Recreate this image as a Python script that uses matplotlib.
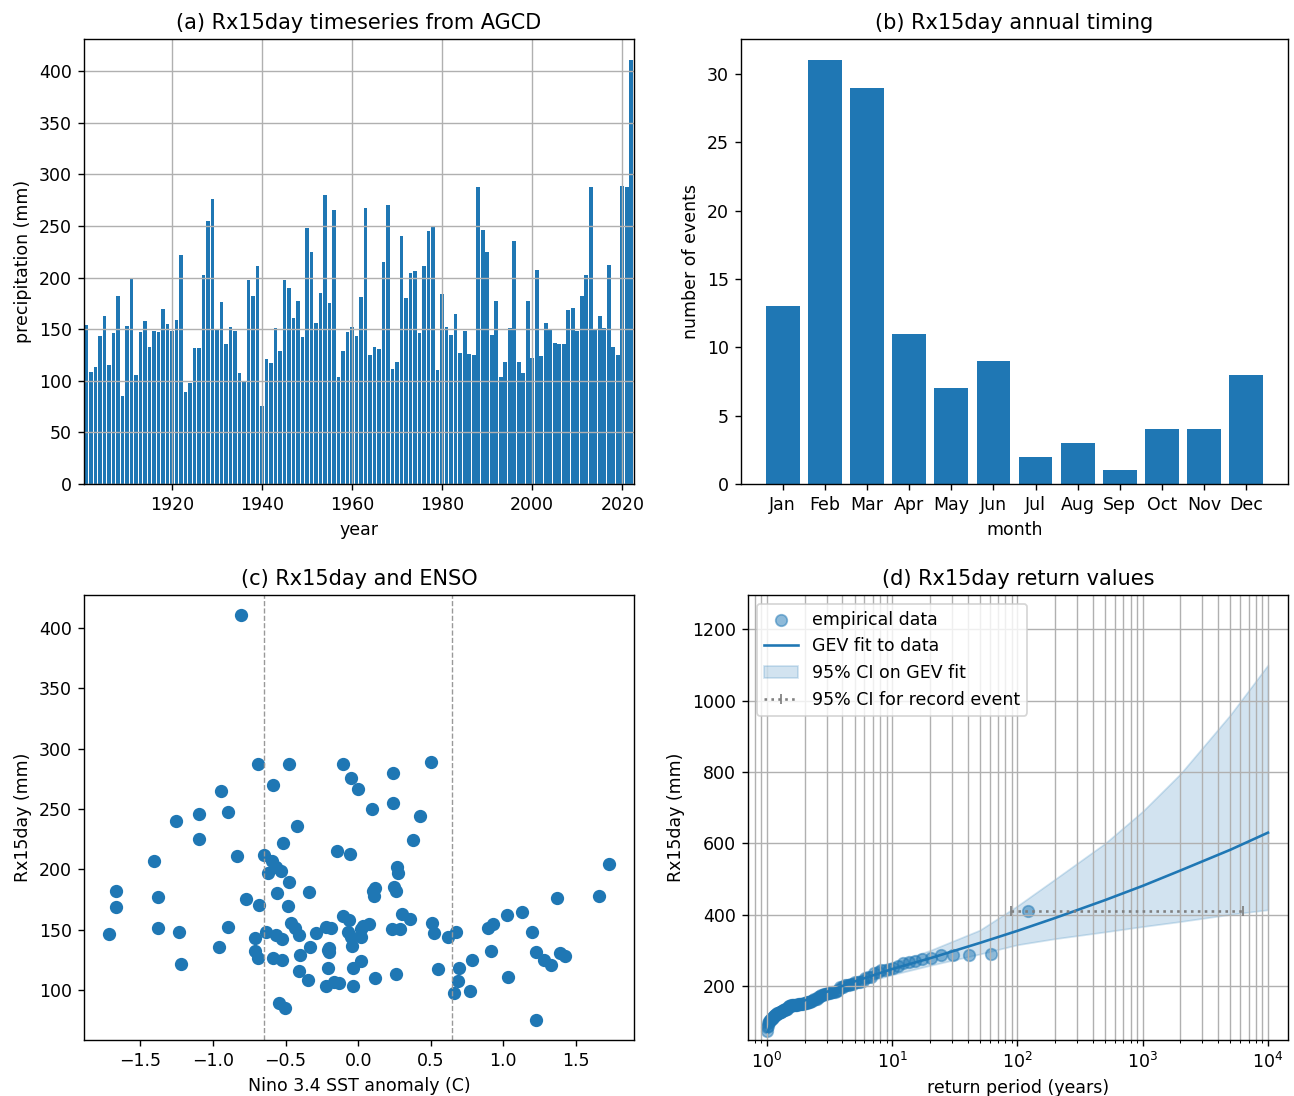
import numpy as np
import matplotlib
matplotlib.use('Agg')
import matplotlib.pyplot as plt

# Rx15day annual maxima (mm), 1901-2022
years = np.arange(1901, 2023)
rx15day = [154.4, 108.4, 113.6, 143.7, 163.1, 115.5, 146.0, 181.9, 85.1, 152.8,
           198.4, 105.8, 147.2, 158.3, 132.4, 147.9, 146.9, 169.3, 154.7, 148.5,
           158.6, 222.0, 89.0, 97.4, 131.7, 131.4, 202.3, 255.3, 275.7, 150.5,
           176.0, 135.9, 151.8, 147.9, 107.1, 99.4, 197.4, 182.2, 211.0, 75.4,
           120.7, 117.5, 151.1, 128.8, 197.4, 189.6, 161.2, 177.7, 142.4, 247.6,
           225.2, 156.0, 185.1, 280.0, 175.4, 265.4, 103.6, 128.5, 147.2, 152.1,
           143.0, 180.9, 267.0, 124.9, 132.4, 130.7, 215.5, 269.9, 111.0, 118.1,
           240.5, 180.6, 204.5, 206.8, 146.0, 211.7, 244.7, 249.8, 110.0, 184.5,
           152.4, 144.0, 164.4, 126.5, 147.9, 126.2, 124.6, 287.4, 246.0, 224.6,
           144.3, 177.7, 103.6, 118.4, 151.1, 235.6, 118.1, 107.4, 177.0, 122.0,
           207.1, 124.3, 155.7, 150.5, 136.2, 135.6, 135.3, 168.6, 170.9, 147.9,
           182.5, 202.3, 287.4, 150.5, 162.5, 151.1, 212.6, 133.0, 124.6, 288.7,
           287.7, 410.7]

# Nino 3.4 SST anomaly (C) for each year
nino34 = [0.075, -0.347, 0.258, -0.05, 0.305, -0.405, -0.407, 0.261, -0.506, 0.037,
          -0.533, -0.135, 0.526, -0.061, 0.917, 1.2, -1.717, -0.48, 0.931, -0.073,
          0.358, -0.517, -0.545, 0.659, 1.223, -0.2, 0.268, 0.242, -0.046, 0.019,
          1.368, -0.333, -0.437, -1.233, -0.165, 0.772, -0.623, 0.104, -0.833, 1.228,
          1.331, 0.548, -1.38, -0.4, 0.277, -0.476, -0.105, 0.111, -0.526, -0.899,
          -1.095, -0.464, 0.245, 0.242, -0.773, -0.948, -0.218, 1.423, -0.291, -0.218,
          -0.713, -0.342, -0.004, -0.526, -0.709, 1.391, -0.149, -0.586, 1.034, -0.209,
          -1.256, -0.557, 1.729, -1.408, -0.563, -0.648, 0.427, 0.093, 0.116, 0.116,
          -0.897, 0.019, 1.126, -0.584, -0.632, -0.692, 0.788, -0.688, -1.095, 0.381,
          0.617, 1.66, -0.032, -0.032, -0.188, -0.419, 0.698, 0.691, -1.376, -1.222,
          -0.591, 0.019, 0.51, 0.233, -0.039, -0.957, -0.2, -1.671, -0.683, 0.675,
          -1.671, -0.568, -0.478, 0.291, 1.025, 0.894, -0.057, -0.205, 1.278, 0.503,
          -0.101, -0.805]

# month of each annual maximum
months = ['Jan', 'Feb', 'Mar', 'Apr', 'May', 'Jun', 'Jul', 'Aug', 'Sep', 'Oct', 'Nov', 'Dec']
month_counts = [13, 31, 29, 11, 7, 9, 2, 3, 1, 4, 4, 8]

# GEV return curve and 95% CI
return_periods = [1.01, 1.1, 1.3, 1.6, 2, 3, 5, 10, 20, 50, 100, 200, 500, 1000, 2000, 5000, 10000]
gev_fit = [72, 106, 125, 142, 160, 184, 213, 248, 278, 321, 355, 391, 441, 481, 524, 582, 630]
gev_lower = [62, 100, 120, 137, 154, 176, 203, 232, 258, 290, 316, 333, 352, 367, 381, 401, 414]
gev_upper = [82, 112, 130, 147, 166, 192, 225, 264, 300, 357, 425, 500, 600, 690, 795, 960, 1100]
record_ci = [88, 6300]

enso_threshold = 0.65

fig = plt.figure(figsize=(10.352, 8.768), dpi=125)
W, H = 1294, 1096
def add_ax(l, r, t, b):
    return fig.add_axes([l / W, 1 - b / H, (r - l) / W, (b - t) / H])

# (a) timeseries
ax1 = add_ax(84, 634, 39, 484)
ax1.bar(years, rx15day, color='tab:blue')
ax1.set_xlim(1900.45, 2022.6)
ax1.grid(True)
ax1.set_title('(a) Rx15day timeseries from AGCD')
ax1.set_xlabel('year')
ax1.set_ylabel('precipitation (mm)')

# (b) annual timing
ax2 = add_ax(741, 1288, 39, 484)
ax2.bar(months, month_counts, color='tab:blue')
ax2.set_title('(b) Rx15day annual timing')
ax2.set_xlabel('month')
ax2.set_ylabel('number of events')

# (c) ENSO
ax3 = add_ax(84, 634, 595, 1040)
ax3.scatter(nino34, rx15day, s=44, color='tab:blue')
ax3.axvline(-enso_threshold, color='0.6', linestyle='--', linewidth=0.8)
ax3.axvline(enso_threshold, color='0.6', linestyle='--', linewidth=0.8)
ax3.set_title('(c) Rx15day and ENSO')
ax3.set_xlabel('Nino 3.4 SST anomaly (C)')
ax3.set_ylabel('Rx15day (mm)')

# (d) return values
ax4 = add_ax(748, 1288, 595, 1040)
sorted_vals = np.sort(rx15day)[::-1]
n = len(sorted_vals)
empirical_rp = n / np.arange(1, n + 1)
ax4.scatter(empirical_rp, sorted_vals, s=44, color='tab:blue', alpha=0.5, label='empirical data')
ax4.plot(return_periods, gev_fit, color='tab:blue', label='GEV fit to data')
ax4.fill_between(return_periods, gev_lower, gev_upper, color='tab:blue', alpha=0.2,
                 label='95% CI on GEV fit')
ax4.plot(record_ci, [max(rx15day)] * 2, color='tab:gray', linestyle=':', marker='|',
         label='95% CI for record event')
ax4.set_xscale('log')
ax4.set_xlim(10 ** -0.152, 10 ** 4.16)
ax4.set_ylim(49, 1296)
ax4.grid(True, which='both')
ax4.legend(loc='upper left')
ax4.set_title('(d) Rx15day return values')
ax4.set_xlabel('return period (years)')
ax4.set_ylabel('Rx15day (mm)')

fig.savefig('out.png', dpi=125)
